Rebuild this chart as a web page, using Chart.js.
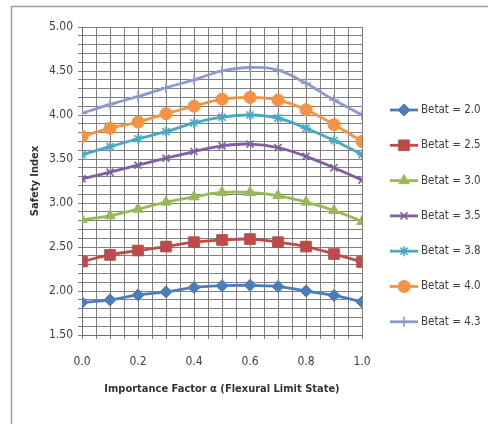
<!DOCTYPE html>
<html>
<head>
<meta charset="utf-8">
<script src="https://cdn.jsdelivr.net/npm/chart.js@4.4.1/dist/chart.umd.min.js"></script>
<style>
  html, body { margin: 0; padding: 0; background: #ffffff; }
  #wrap { width: 488px; height: 424px; position: relative; }
</style>
</head>
<body>
<div id="wrap"><canvas id="c" width="488" height="424"></canvas></div>
<script>
// ---- data ----
const alphaValues = [0.0, 0.1, 0.2, 0.3, 0.4, 0.5, 0.6, 0.7, 0.8, 0.9, 1.0];
const seriesLabels = ["Betat = 2.0", "Betat = 2.5", "Betat = 3.0", "Betat = 3.5", "Betat = 3.8", "Betat = 4.0", "Betat = 4.3"];
const betat20 = [1.87, 1.90, 1.955, 1.99, 2.04, 2.06, 2.065, 2.05, 2.00, 1.95, 1.875];
const betat25 = [2.335, 2.41, 2.46, 2.505, 2.555, 2.58, 2.59, 2.555, 2.505, 2.42, 2.33];
const betat30 = [2.81, 2.855, 2.93, 3.01, 3.07, 3.12, 3.12, 3.085, 3.01, 2.915, 2.79];
const betat35 = [3.275, 3.35, 3.43, 3.51, 3.585, 3.65, 3.67, 3.63, 3.53, 3.40, 3.26];
const betat38 = [3.55, 3.64, 3.73, 3.81, 3.91, 3.975, 4.00, 3.965, 3.85, 3.71, 3.55];
const betat40 = [3.755, 3.85, 3.92, 4.015, 4.10, 4.18, 4.20, 4.17, 4.06, 3.89, 3.70];
const betat43 = [4.02, 4.12, 4.21, 4.31, 4.40, 4.50, 4.54, 4.51, 4.36, 4.17, 4.00];
const yTickLabelsStep = 0.5;
const xTickLabelsStep = 0.2;
const xTitle = "Importance Factor \u03b1 (Flexural Limit State)";
const yTitle = "Safety Index";

// ---- styles ----
const colors = ["#4A7EBB", "#BE4B48", "#98B954", "#7D60A0", "#46AAC5", "#F69240", "#8E98CC"];
const pStyles = ["rectRot", "rect", "triangle", "crossRot", "star", "circle", "cross"];
const pRadius = [6, 7.5, 6, 5, 5, 6, 5];
const allSeries = [betat20, betat25, betat30, betat35, betat38, betat40, betat43];
const FONT = "'Liberation Sans Narrow', 'DejaVu Sans Condensed', 'Liberation Sans', sans-serif";

const datasets = allSeries.map((vals, i) => ({
  label: seriesLabels[i],
  data: vals.map((v, k) => ({ x: alphaValues[k], y: v })),
  borderColor: colors[i],
  backgroundColor: colors[i],
  borderWidth: 2.8,
  pointStyle: pStyles[i],
  pointRadius: pRadius[i],
  pointBorderWidth: (pStyles[i] === "crossRot" || pStyles[i] === "star" || pStyles[i] === "cross") ? 1.6 : 1,
  pointBorderColor: colors[i],
  pointBackgroundColor: colors[i],
  tension: 0.4,
  fill: false
}));

const frameAndLegend = {
  id: "frameAndLegend",
  beforeDraw(chart) {
    const ctx = chart.ctx;
    ctx.save();
    ctx.fillStyle = "#ffffff";
    ctx.fillRect(0, 0, chart.width, chart.height);
    ctx.strokeStyle = "#a0a0a0";
    ctx.lineWidth = 1.5;
    ctx.strokeRect(11.5, 6.5, chart.width, chart.height);
    ctx.restore();
  },
  afterDraw(chart) {
    const ctx = chart.ctx;
    ctx.save();
    const x0 = 390, x1 = 418, top = 110, step = 35.3;
    chart.data.datasets.forEach((ds, i) => {
      const y = top + i * step;
      ctx.strokeStyle = ds.borderColor;
      ctx.lineWidth = 2.8;
      ctx.beginPath();
      ctx.moveTo(x0, y);
      ctx.lineTo(x1, y);
      ctx.stroke();
      ctx.fillStyle = ds.pointBackgroundColor;
      ctx.strokeStyle = ds.pointBorderColor;
      ctx.lineWidth = ds.pointBorderWidth;
      Chart.helpers.drawPoint(ctx, { pointStyle: ds.pointStyle, radius: ds.pointRadius, rotation: 0, borderWidth: ds.pointBorderWidth }, (x0 + x1) / 2, y);
      ctx.fillStyle = "#404040";
      ctx.font = "11.5px " + FONT;
      ctx.textBaseline = "middle";
      ctx.textAlign = "left";
      ctx.fillText(ds.label, x1 + 3, y);
    });
    ctx.restore();
  }
};

new Chart(document.getElementById("c"), {
  type: "line",
  data: { datasets },
  options: {
    responsive: false,
    animation: false,
    devicePixelRatio: 1,
    layout: { padding: { left: 0, top: 27, right: 126, bottom: 0 } },
    plugins: { legend: { display: false }, tooltip: { enabled: false } },
    scales: {
      x: {
        type: "linear",
        min: 0, max: 1,
        afterFit(scale) { scale.height = 89; },
        border: { display: true, color: "#6f6f6f", width: 1 },
        grid: { color: "#808080", lineWidth: 1, tickLength: 4, drawTicks: true },
        ticks: {
          stepSize: 0.05,
          autoSkip: false,
          maxRotation: 0,
          padding: 16,
          color: "#404040",
          font: { family: FONT, size: 12 },
          callback(v) {
            const r = Math.round(v * 100) / 100;
            const q = r / xTickLabelsStep;
            return Math.abs(q - Math.round(q)) < 1e-6 ? r.toFixed(1) : "";
          }
        },
        title: {
          display: true, text: xTitle, color: "#333333",
          font: { family: FONT, size: 11, weight: "bold" },
          padding: { top: 0, bottom: 28 }
        }
      },
      y: {
        type: "linear",
        min: 1.5, max: 5,
        afterFit(scale) { scale.width = 82; },
        border: { display: true, color: "#6f6f6f", width: 1 },
        grid: { color: "#808080", lineWidth: 1, tickLength: 4, drawTicks: true },
        ticks: {
          stepSize: 0.1,
          autoSkip: false,
          padding: 5,
          color: "#404040",
          font: { family: FONT, size: 12 },
          callback(v) {
            const r = Math.round(v * 100) / 100;
            const q = r / yTickLabelsStep;
            return Math.abs(q - Math.round(q)) < 1e-6 ? r.toFixed(2) : "";
          }
        },
        title: {
          display: true, text: yTitle, color: "#333333",
          font: { family: FONT, size: 11, weight: "bold" },
          padding: { top: 29, bottom: 0 }
        }
      }
    }
  },
  plugins: [frameAndLegend]
});
</script>
</body>
</html>
